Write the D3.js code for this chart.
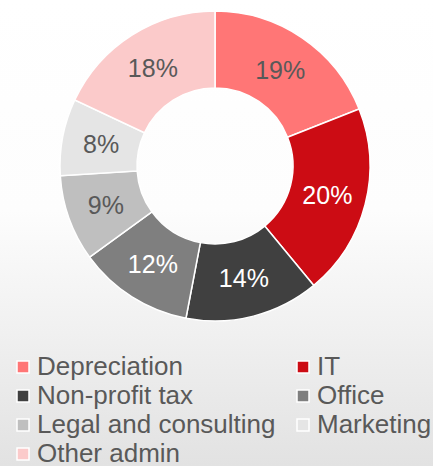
<!DOCTYPE html>
<html>
<head>
<meta charset="utf-8">
<script src="https://cdn.jsdelivr.net/npm/d3@7"></script>
<style>
  html, body { margin: 0; padding: 0; }
  svg { display: block; font-family: "Liberation Sans", Arial, sans-serif; }
</style>
</head>
<body>
<div id="chart"></div>
<script>
var width = 433, height = 466;

var categories = ["Depreciation", "IT", "Non-profit tax", "Office", "Legal and consulting", "Marketing", "Other admin"];
var values = [19, 20, 14, 12, 9, 8, 18];
var colors = ["#ff7676", "#cc0c14", "#404040", "#7f7f7f", "#bfbfbf", "#e5e5e5", "#fbcaca"];
var labelColors = ["#595959", "#ffffff", "#ffffff", "#ffffff", "#595959", "#595959", "#595959"];

var svg = d3.select("#chart").append("svg")
    .attr("width", width).attr("height", height);

var grad = svg.append("defs").append("linearGradient")
    .attr("id", "bg").attr("x1", 0).attr("y1", 0).attr("x2", 0).attr("y2", 1);
grad.append("stop").attr("offset", "0%").attr("stop-color", "#ffffff");
grad.append("stop").attr("offset", "45%").attr("stop-color", "#fdfdfd");
grad.append("stop").attr("offset", "100%").attr("stop-color", "#e2e2e2");

svg.append("rect").attr("width", width).attr("height", height).attr("fill", "url(#bg)");

var data = categories.map(function(c, i){ return {name: c, value: values[i], i: i}; });

var pie = d3.pie().sort(null).value(function(d){ return d.value; });
var arc = d3.arc().innerRadius(78).outerRadius(155);
var labelArc = d3.arc().innerRadius(116).outerRadius(116);

var g = svg.append("g").attr("transform", "translate(215,166)");

var arcs = pie(data);

g.selectAll("path")
    .data(arcs)
    .enter().append("path")
    .attr("d", arc)
    .attr("fill", function(d){ return colors[d.data.i]; })
    .attr("stroke", "#ffffff")
    .attr("stroke-width", 1.5);

g.selectAll("text")
    .data(arcs)
    .enter().append("text")
    .attr("transform", function(d){ return "translate(" + labelArc.centroid(d) + ")"; })
    .attr("text-anchor", "middle")
    .attr("dy", "0.36em")
    .attr("font-size", 25)
    .attr("fill", function(d){ return labelColors[d.data.i]; })
    .text(function(d){ return d.data.value + "%"; });

// legend, two columns
var colX = [17, 297], rowY = 375, rowH = 29;
var legend = svg.append("g");
var items = legend.selectAll("g")
    .data(data)
    .enter().append("g")
    .attr("transform", function(d){
        return "translate(" + colX[d.i % 2] + "," + (rowY + Math.floor(d.i / 2) * rowH) + ")";
    });

items.append("rect")
    .attr("x", 0).attr("y", -14)
    .attr("width", 12).attr("height", 12)
    .attr("fill", function(d){ return colors[d.i]; })
    .attr("stroke", "#ffffff")
    .attr("stroke-width", 1.5);

items.append("text")
    .attr("x", 20).attr("y", 0)
    .attr("font-size", 26)
    .attr("fill", "#595959")
    .text(function(d){ return d.name; });
</script>
</body>
</html>
